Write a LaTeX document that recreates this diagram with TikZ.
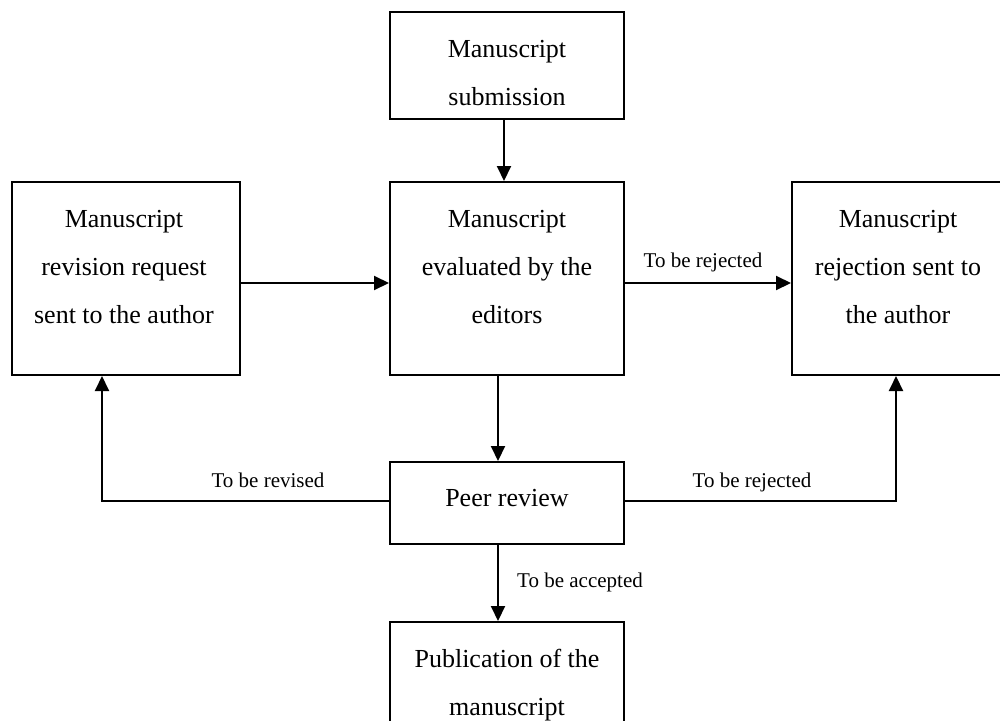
\documentclass[tikz,border=0pt]{standalone}
\usepackage{fontspec}
\setmainfont{Liberation Serif}
\usetikzlibrary{arrows.meta}
\begin{document}
\begin{tikzpicture}[x=1pt,y=1pt,
  box/.style={draw=black, line width=2pt, rectangle, inner sep=0pt},
  boxtext/.style={inner sep=0pt, align=center, font=\fontsize{26}{48}\selectfont},
  lbl/.style={inner sep=0pt, anchor=base, font=\fontsize{21}{25}\selectfont},
  conn/.style={line width=2pt, -{Triangle[length=15pt,width=14pt]}},
  plain/.style={line width=2pt}]
\clip (0,0) rectangle (1000,-720);
\fill[white] (0,0) rectangle (1000,-720);
% boxes
\node[box, minimum width=234pt, minimum height=107pt] (sub) at (507,-65.5) {};
\node[box, minimum width=234pt, minimum height=193pt] (eval) at (507,-278.5) {};
\node[box, minimum width=228pt, minimum height=193pt] (rev) at (126,-278.5) {};
\node[box, minimum width=212pt, minimum height=193pt] (rej) at (898,-278.5) {};
\node[box, minimum width=234pt, minimum height=82pt] (peer) at (507,-503) {};
\node[box, minimum width=234pt, minimum height=130pt] (pub) at (507,-687) {};
% texts
\node[boxtext] (subt) at (507,-71.4) {\strut Manuscript\\\strut submission};
\node[boxtext] (evalt) at (507,-265.4) {\strut Manuscript\\\strut evaluated by the\\\strut editors};
\node[boxtext] (revt) at (124,-265.4) {\strut Manuscript\\\strut revision request\\\strut sent to the author};
\node[boxtext] (rejt) at (898,-265.4) {\strut Manuscript\\\strut rejection sent to\\\strut the author};
\node[boxtext] (peert) at (507,-496.4) {\strut Peer review};
\node[boxtext] (pubt) at (507,-681.4) {\strut Publication of the\\\strut manuscript};
% connectors
\draw[conn] ([xshift=-3pt]sub.south) -- ([xshift=-3pt]eval.north);
\draw[conn] ([xshift=-9pt]eval.south) -- ([xshift=-9pt]peer.north);
\draw[conn] ([xshift=-9pt]peer.south) -- ([xshift=-9pt]pub.north);
\draw[conn] ([yshift=-4.5pt]rev.east) -- ([yshift=-4.5pt]eval.west);
\draw[conn] ([yshift=-4.5pt]eval.east) -- ([yshift=-4.5pt]rej.west);
\draw[conn] ([yshift=2pt]peer.west) -| ([xshift=-24pt]rev.south);
\draw[conn] ([yshift=2pt]peer.east) -| ([xshift=-2pt]rej.south);
% labels
\node[lbl] (l1) at (703,-267) {To be rejected};
\node[lbl] (l2) at (268,-487) {To be revised};
\node[lbl] (l3) at (752,-487) {To be rejected};
\node[lbl, anchor=base west] (l4) at (517,-587) {To be accepted};
\end{tikzpicture}
\end{document}
